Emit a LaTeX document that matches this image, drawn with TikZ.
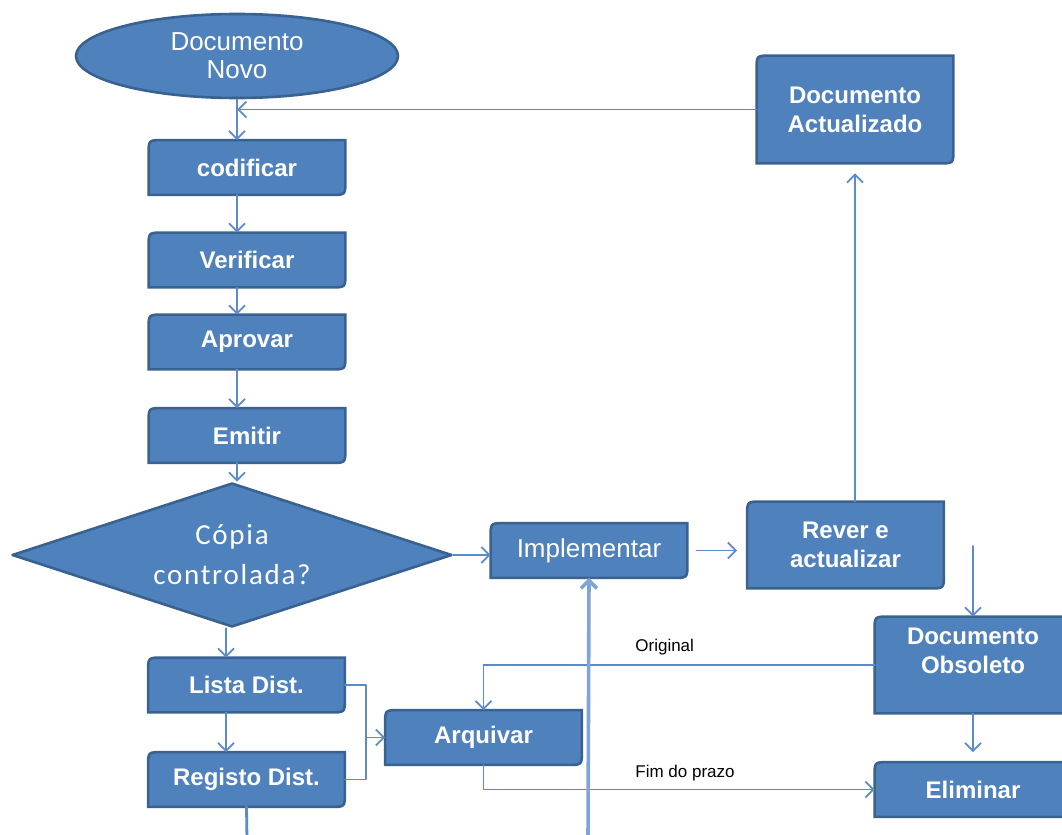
\documentclass[tikz,border=0pt]{standalone}
\usepackage{fontspec}
\setmainfont{Liberation Sans}
\newfontfamily\calib[LetterSpace=6]{Carlito}
\usetikzlibrary{arrows.meta}
\usetikzlibrary{positioning}
\usetikzlibrary{shapes.geometric}
\usetikzlibrary{backgrounds}

\definecolor{boxfill}{HTML}{4F81BD}
\definecolor{boxline}{HTML}{3A6291}
\definecolor{conn}{HTML}{5B8BC9}
\definecolor{connlt}{HTML}{7FA5D6}

\tikzset{
  procbox/.style={text=white,font=\fontsize{12}{14.5}\selectfont\bfseries,align=center,
    minimum width=98pt,minimum height=27pt,inner sep=0pt},
  shapeline/.style={fill=boxfill,draw=boxline,line width=1.3pt},
  conn/.style={draw=conn,line width=0.9pt},
  arr/.style={conn,->},
  tag/.style={font=\fontsize{8.5}{10}\selectfont,text=black,anchor=west,inner sep=0pt}
}

\begin{document}
\begin{tikzpicture}[line cap=round,line join=round,>={Straight Barb[length=4pt,width=8pt]},x=0.5pt,y=-0.5pt]
\useasboundingbox (0,0) rectangle (1062,835);
\clip (0,0) rectangle (1062,835);
% start and decision
\node[ellipse,shapeline,minimum width=161pt,minimum height=42pt,inner sep=0pt,
  text=white,align=center,font=\fontsize{13}{14}\selectfont] (novo) at (237,56) {Documento\\Novo};
\node[diamond,aspect=3.4,shapeline,minimum width=220pt,minimum height=72pt,inner sep=0pt,
  text=white,align=center,font=\calib\fontsize{14.5}{20}\selectfont] (dia) at (232,555) {Cópia\\controlada?};
% process boxes
\node[procbox] (cod) at (247,167.5) {codificar};
\node[procbox] (ver) at (247,260) {Verificar};
\node[procbox] (apr) at (247,342) {Aprovar};
\node[procbox] (emi) at (247,435.5) {Emitir};
\node[procbox,minimum height=53.5pt] (actual) at (855,109.5) {Documento\\Actualizado};
\node[procbox,font=\fontsize{13}{14}\selectfont] (impl) at (589,550.5) {Implementar};
\node[procbox,minimum height=43pt] (rever) at (845.5,545) {Rever e\\actualizar};
\node[procbox,minimum height=48pt] (obs) at (973,665) {Documento\\Obsoleto\\\mbox{}};
\node[procbox] (elim) at (973,789.5) {Eliminar};
\node[procbox] (lista) at (246.5,685) {Lista Dist.};
\node[procbox] (reg) at (246.5,779.5) {Registo Dist.};
\node[procbox] (arq) at (483.5,737.5) {Arquivar};

\begin{scope}[on background layer]
\foreach \n in {cod,ver,apr,emi,actual,impl,rever,obs,elim,lista,reg,arq}
  \path[shapeline] ([yshift=-7pt]\n.north west) .. controls (\n.north west) .. ([xshift=7pt]\n.north west)
    -- (\n.north east) -- ([yshift=7pt]\n.south east) .. controls (\n.south east) .. ([xshift=-7pt]\n.south east)
    -- (\n.south west) -- cycle;
\end{scope}

\coordinate (rv) at (973,546);
\coordinate (br) at (366,737.5);
\coordinate (regend) at (247,840);
\coordinate (implin) at (588,840);

% main line
\draw[arr] (novo.south) -- (cod.north -| novo);
\draw[arr] (actual.west) -- (actual.west -| novo);
\draw[arr] (cod.south -| novo) -- (ver.north -| novo);
\draw[arr] (ver.south -| novo) -- (apr.north -| novo);
\draw[arr] (apr.south -| novo) -- (emi.north -| novo);
\draw[arr] (emi.south -| novo) -- (dia.north -| novo);
\draw[arr] (dia.east) -- (dia.east -| impl.west);
\draw[arr,shorten <=4.5pt,shorten >=5pt] (impl.east) -- (impl.east -| rever.west);
\draw[arr,shorten >=5pt] (rever.north -| actual) -- (actual.south);
\draw[arr] (rv) -- (obs.north);
\draw[arr,shorten >=5pt] (obs.south) -- (elim.north);
% distribution
\draw[arr] ([xshift=-3pt]dia.south) -- ([xshift=-3pt]dia.south |- lista.north);
\draw[arr] ([xshift=-10.25pt]lista.south) -- ([xshift=-10.25pt]reg.north);
\draw[conn] (lista.east) -| (br) |- (reg.east);
\draw[arr] (br) -- (arq.west);
\draw[conn,line width=1.4pt] (reg.south) -- (regend);
% obsolete documents
\draw[arr] (obs.west) -| (arq.north);
\draw[arr] (arq.south) |- (elim.west);
\node[tag] (orig) at (635,647) {Original};
\node[tag] (prazo) at (635,773) {Fim do prazo};
\draw[arr,draw=connlt,line width=1.8pt] (implin) -- (impl.south);
\end{tikzpicture}
\end{document}
